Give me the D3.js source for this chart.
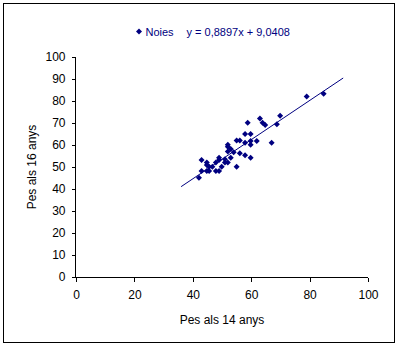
<!DOCTYPE html>
<html>
<head>
<meta charset="utf-8">
<script src="https://cdn.jsdelivr.net/npm/d3@7"></script>
<style>
  html, body { margin: 0; padding: 0; background: #fff; }
  svg { display: block; font-family: "Liberation Sans", Arial, sans-serif; }
</style>
</head>
<body>
<svg id="chart" width="399" height="348"></svg>
<script>
// Weight at 14 years (kg) of each girl
const pes14 = [
  42.1, 43.0, 44.8, 44.8, 45.6, 46.7, 43.0, 44.8, 45.6, 47.9,
  49.0, 47.9, 49.0, 49.0, 49.9, 51.0, 51.0, 52.0, 52.0, 52.0,
  53.0, 54.0, 52.0, 56.1, 57.9, 59.8, 53.0, 55.0, 55.0, 56.1,
  57.9, 59.8, 59.8, 61.9, 57.9, 59.8, 58.8, 63.0, 63.9, 64.8,
  69.9, 68.8, 67.0, 79.0, 84.8
];
// Weight at 16 years (kg) of the same girls
const pes16 = [
  45.1, 53.2, 52.0, 50.9, 50.1, 50.1, 48.2, 48.2, 48.2, 48.2,
  48.2, 52.0, 54.2, 53.2, 50.1, 53.5, 52.0, 52.0, 60.1, 59.2,
  58.2, 56.7, 57.0, 56.2, 55.3, 54.2, 54.2, 50.1, 62.0, 62.0,
  61.0, 61.8, 60.1, 61.8, 65.0, 65.0, 70.1, 72.1, 70.1, 69.1,
  73.3, 69.4, 61.0, 82.0, 83.3
];
// Linear trend line y = a·x + b and the x range it spans
const trendSlope = 0.8897;
const trendIntercept = 9.0408;
const trendRange = [36, 91.5];

const xTicks = [0, 20, 40, 60, 80, 100];
const yTicks = [0, 10, 20, 30, 40, 50, 60, 70, 80, 90, 100];
const seriesName = "Noies";
const xTitle = "Pes als 14 anys";
const yTitle = "Pes als 16 anys";
const trendLabel = "y = 0,8897x + 9,0408";

const navy = "#000080";
const svg = d3.select("#chart");

// Chart area frame
svg.append("rect")
  .attr("x", 3.5).attr("y", 3.5)
  .attr("width", 391).attr("height", 339)
  .attr("fill", "#fff").attr("stroke", "#000").attr("stroke-width", 1);

const x = d3.scaleLinear().domain([0, 100]).range([76, 368]);
const y = d3.scaleLinear().domain([0, 100]).range([277, 57]);

// Axes
const xAxis = d3.axisBottom(x).tickValues(xTicks).tickSize(4).tickPadding(9)
  .tickFormat(d3.format("d"));
const yAxis = d3.axisLeft(y).tickValues(yTicks).tickSize(4).tickPadding(6)
  .tickFormat(d3.format("d"));

const gx = svg.append("g").attr("transform", "translate(0,277.5)").call(xAxis);
const gy = svg.append("g").attr("transform", "translate(75.5,0)").call(yAxis);
[gx, gy].forEach(g => {
  g.select(".domain").attr("stroke", "#000").attr("shape-rendering", "crispEdges");
  g.selectAll(".tick line").attr("stroke", "#000").attr("shape-rendering", "crispEdges");
  g.selectAll(".tick text").attr("fill", "#000").attr("font-size", 12)
    .attr("font-family", "Liberation Sans, Arial, sans-serif");
});
// Ticks point outward on both axes
gx.select(".domain").attr("d", `M${x(0)},0H${x(100)}`);
gy.select(".domain").attr("d", `M0,${y(0)}V${y(100)}`);

// Axis titles
svg.append("text")
  .attr("x", (x(0) + x(100)) / 2).attr("y", 324)
  .attr("text-anchor", "middle").attr("font-size", 12).attr("fill", "#000")
  .text(xTitle);
svg.append("text")
  .attr("transform", `translate(36,${(y(0) + y(100)) / 2}) rotate(-90)`)
  .attr("text-anchor", "middle").attr("font-size", 12).attr("fill", "#000")
  .text(yTitle);

// Trend line
svg.append("line")
  .attr("x1", x(trendRange[0])).attr("y1", y(trendSlope * trendRange[0] + trendIntercept))
  .attr("x2", x(trendRange[1])).attr("y2", y(trendSlope * trendRange[1] + trendIntercept))
  .attr("stroke", navy).attr("stroke-width", 1);

// Data points: small square-proportioned diamonds
const r = 3;
const diamond = `M0,${-r}L${r},0L0,${r}L${-r},0Z`;
svg.append("g").selectAll("path")
  .data(pes14.map((v, i) => [v, pes16[i]]))
  .join("path")
  .attr("transform", d => `translate(${x(d[0])},${y(d[1])})`)
  .attr("d", diamond)
  .attr("fill", navy);

// Legend
const lg = svg.append("g");
lg.append("path")
  .attr("transform", "translate(139,31.5)")
  .attr("d", diamond).attr("fill", navy);
lg.append("text").attr("x", 145.5).attr("y", 35.5)
  .attr("font-size", 11).attr("fill", navy).text(seriesName);
lg.append("text").attr("x", 186.5).attr("y", 35.5)
  .attr("font-size", 11).attr("fill", navy).text(trendLabel);
</script>
</body>
</html>
